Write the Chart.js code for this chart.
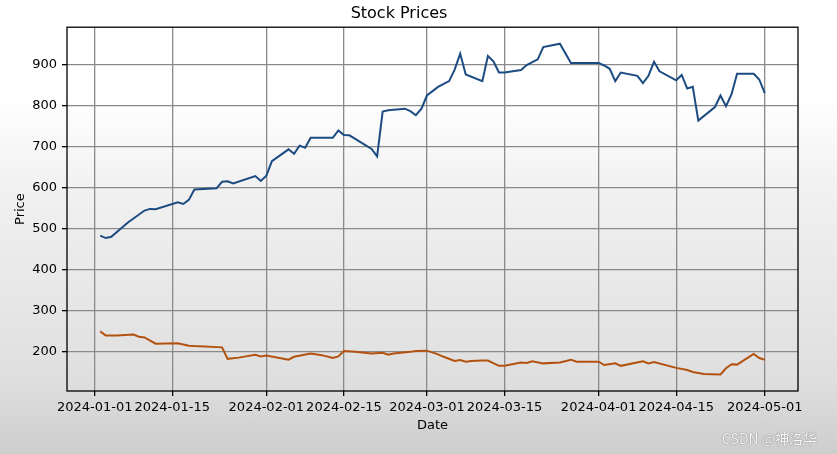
<!DOCTYPE html>
<html>
<head>
<meta charset="utf-8">
<script src="https://cdn.jsdelivr.net/npm/chart.js@4.4.1/dist/chart.umd.min.js"></script>
<style>
  html, body { margin: 0; padding: 0; }
  body {
    width: 837px; height: 454px; overflow: hidden; position: relative;
    background: linear-gradient(to bottom, #ffffff 0px, #ffffff 95px, #f1f1f1 190px, #dfdfdf 380px, #cdcdcd 454px);
  }
  #wm {
    position: absolute; left: 722px; top: 428px;
    font: 14px "Noto Sans CJK SC", "DejaVu Sans", sans-serif;
    color: #f6f6f6; text-shadow: 0 0 1px #7a7a7a, 0 0 1px #7a7a7a;
  }
</style>
</head>
<body>
<canvas id="chart" width="837" height="454"></canvas>
<div id="wm">CSDN @神洛华</div>
<script>
// blue series (vertices)
const blueDates = ['2024-01-02','2024-01-03','2024-01-04','2024-01-07','2024-01-10','2024-01-11','2024-01-12','2024-01-16','2024-01-17','2024-01-18','2024-01-19','2024-01-23','2024-01-24','2024-01-25','2024-01-26','2024-01-30','2024-01-31','2024-02-01','2024-02-02','2024-02-05','2024-02-06','2024-02-07','2024-02-08','2024-02-09','2024-02-13','2024-02-14','2024-02-15','2024-02-16','2024-02-20','2024-02-21','2024-02-22','2024-02-23','2024-02-26','2024-02-27','2024-02-28','2024-02-29','2024-03-01','2024-03-03','2024-03-05','2024-03-06','2024-03-07','2024-03-08','2024-03-11','2024-03-12','2024-03-13','2024-03-14','2024-03-15','2024-03-18','2024-03-19','2024-03-21','2024-03-22','2024-03-25','2024-03-27','2024-04-01','2024-04-02','2024-04-03','2024-04-04','2024-04-05','2024-04-08','2024-04-09','2024-04-10','2024-04-11','2024-04-12','2024-04-15','2024-04-16','2024-04-17','2024-04-18','2024-04-19','2024-04-22','2024-04-23','2024-04-24','2024-04-25','2024-04-26','2024-04-29','2024-04-30','2024-05-01'];
const blueValues = [483,477,480,515,544,548,547,564,560,570,595,598,614,615,610,628,616,629,664,693,682,702,697,721,721,739,728,727,694,676,785,788,792,786,776,792,824,845,859,887,926,875,859,920,907,880,880,886,898,912,942,950,903,903,897,889,859,880,872,854,872,906,883,861,874,841,845,763,796,824,798,827,877,877,863,830];

// orange series
const orangeDates = ['2024-01-02','2024-01-03','2024-01-05','2024-01-08','2024-01-09','2024-01-10','2024-01-12','2024-01-16','2024-01-18','2024-01-19','2024-01-24','2024-01-25','2024-01-27','2024-01-30','2024-01-31','2024-02-01','2024-02-05','2024-02-06','2024-02-09','2024-02-11','2024-02-13','2024-02-14','2024-02-15','2024-02-17','2024-02-20','2024-02-22','2024-02-23','2024-02-24','2024-02-27','2024-02-28','2024-03-01','2024-03-03','2024-03-04','2024-03-06','2024-03-07','2024-03-08','2024-03-09','2024-03-11','2024-03-12','2024-03-14','2024-03-15','2024-03-18','2024-03-19','2024-03-20','2024-03-22','2024-03-25','2024-03-27','2024-03-28','2024-04-01','2024-04-02','2024-04-04','2024-04-05','2024-04-09','2024-04-10','2024-04-11','2024-04-15','2024-04-17','2024-04-18','2024-04-20','2024-04-23','2024-04-24','2024-04-25','2024-04-26','2024-04-29','2024-04-30','2024-05-01'];
const orangeValues = [250,240,240,242,237,235,220,221,215,214,211,183,186,193,189,191,181,188,196,192,185,189,202,200,196,198,193,196,200,202,203,194,188,178,180,176,178,179,179,166,166,174,173,177,172,174,181,176,176,168,172,166,177,172,175,161,156,151,146,145,160,170,169,195,185,181];

const xTickLabels = ['2024-01-01','2024-01-15','2024-02-01','2024-02-15','2024-03-01','2024-03-15','2024-04-01','2024-04-15','2024-05-01'];
const yTicks = [200, 300, 400, 500, 600, 700, 800, 900];

const DAY = 86400000;
const origin = Date.UTC(2024, 0, 1);
const toDay = s => (Date.parse(s + 'T00:00:00Z') - origin) / DAY;
const toLabel = d => new Date(origin + d * DAY).toISOString().slice(0, 10);

// matplotlib style 5% margins
const allX = blueDates.concat(orangeDates).map(toDay);
const allY = blueValues.concat(orangeValues);
const xMin = Math.min(...allX), xMax = Math.max(...allX);
const yMin = Math.min(...allY), yMax = Math.max(...allY);
const xPad = (xMax - xMin) * 0.05, yPad = (yMax - yMin) * 0.05;

const font = 'DejaVu Sans';

const frame = {
  id: 'frame',
  afterDatasetsDraw(chart) {
    const { ctx, chartArea: a } = chart;
    ctx.save();
    ctx.strokeStyle = '#000';
    ctx.lineWidth = 1.3;
    ctx.strokeRect(a.left, a.top, a.right - a.left, a.bottom - a.top);
    ctx.restore();
  }
};

new Chart(document.getElementById('chart'), {
  type: 'line',
  data: {
    datasets: [{
      data: blueDates.map((d, i) => ({ x: toDay(d), y: blueValues[i] })),
      borderColor: '#1c4b82',
      borderWidth: 2,
      pointRadius: 0,
      tension: 0
    }, {
      data: orangeDates.map((d, i) => ({ x: toDay(d), y: orangeValues[i] })),
      borderColor: '#b3520f',
      borderWidth: 2,
      pointRadius: 0,
      tension: 0
    }]
  },
  options: {
    responsive: false,
    animation: false,
    layout: { padding: { right: 39 } },
    plugins: {
      legend: { display: false },
      tooltip: { enabled: false },
      title: {
        display: true,
        text: 'Stock Prices',
        color: '#000',
        font: { family: font, size: 16, weight: 'normal' },
        padding: { top: 4, bottom: 4 }
      }
    },
    scales: {
      x: {
        type: 'linear',
        min: xMin - xPad,
        max: xMax + xPad,
        afterBuildTicks: s => { s.ticks = xTickLabels.map(t => ({ value: toDay(t) })); },
        afterFit: s => { s.height = 63; },
        ticks: {
          callback: v => toLabel(v),
          color: '#000',
          font: { family: font, size: 13 },
          padding: 4,
          maxRotation: 0,
          autoSkip: false
        },
        grid: { color: '#8a8a8a', lineWidth: 1.3, tickColor: '#000', tickLength: 5 },
        border: { display: false },
        title: {
          display: true, text: 'Date', color: '#000',
          font: { family: font, size: 13 },
          padding: { top: 0, bottom: 21 }
        }
      },
      y: {
        min: yMin - yPad,
        max: yMax + yPad,
        afterBuildTicks: s => { s.ticks = yTicks.map(v => ({ value: v })); },
        afterFit: s => { s.width = 67; },
        ticks: {
          color: '#000',
          font: { family: font, size: 13 },
          padding: 5
        },
        grid: { color: '#8a8a8a', lineWidth: 1.3, tickColor: '#000', tickLength: 5 },
        border: { display: false },
        title: {
          display: true, text: 'Price', color: '#000',
          font: { family: font, size: 13 },
          padding: { top: 13, bottom: 0 }
        }
      }
    }
  },
  plugins: [frame]
});
</script>
</body>
</html>
